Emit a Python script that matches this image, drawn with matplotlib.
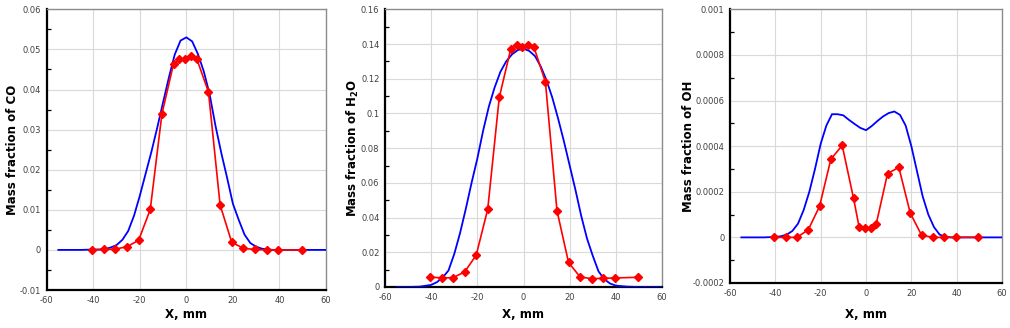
import matplotlib
matplotlib.use("Agg")
import matplotlib.pyplot as plt
from matplotlib.ticker import MultipleLocator, FuncFormatter

# ---------------- data ----------------
x_exp = [-40.5, -35.5, -30.5, -25.5, -20.5, -15.5, -10.5, -5.5, -3, -0.5,
         2, 4.5, 9.5, 14.5, 19.5, 24.5, 29.5, 34.5, 39.5, 49.5]

co_exp = [0.0, 0.0001, 0.0002, 0.0008, 0.0024, 0.0101, 0.0339, 0.0464, 0.0475, 0.0476,
          0.0483, 0.0476, 0.0394, 0.0112, 0.0019, 0.0004, 0.0001, 0.0, 0.0, 0.0]
h2o_exp = [0.0058, 0.0052, 0.0054, 0.0087, 0.0183, 0.0448, 0.1092, 0.1373, 0.1394, 0.1385,
           0.1394, 0.1383, 0.1181, 0.0440, 0.0142, 0.0058, 0.0048, 0.0050, 0.0052, 0.0056]
oh_exp = [0.0, 0.0, 0.0, 0.000033, 0.000136, 0.000343, 0.000403, 0.000171, 0.000044, 0.000039,
          0.000040, 0.000058, 0.000280, 0.000307, 0.000107, 0.000010, 0.0, 0.0, 0.0, 0.0]

x_sim = [-55, -50, -45, -40, -37.5, -35, -32.5, -30, -27.5, -25, -22.5, -20, -17.5, -15,
         -12.5, -10, -7.5, -5, -2.5, 0, 2.5, 5, 7.5, 10, 12.5, 15, 17.5, 20, 22.5, 25,
         27.5, 30, 32.5, 35, 37.5, 40, 45, 50, 55, 60]

co_sim = [0.0, 0.0, 0.0, 0.0001, 0.0001, 0.0002, 0.0006, 0.0012, 0.0025, 0.0047, 0.0085,
          0.0135, 0.019, 0.0245, 0.0305, 0.0368, 0.043, 0.0487, 0.0522, 0.053, 0.052,
          0.0488, 0.0445, 0.0388, 0.031, 0.0242, 0.018, 0.0115, 0.0075, 0.0038, 0.0017,
          0.0008, 0.0003, 0.0001, 0.0, 0.0, 0.0, 0.0, 0.0, 0.0]
h2o_sim = [0.0, 0.0, 0.0002, 0.0012, 0.0028, 0.0055, 0.0095, 0.019, 0.031, 0.045, 0.060,
           0.074, 0.090, 0.104, 0.115, 0.124, 0.130, 0.134, 0.1365, 0.1373, 0.136, 0.133,
           0.127, 0.119, 0.109, 0.097, 0.084, 0.070, 0.056, 0.041, 0.028, 0.018, 0.009,
           0.0045, 0.002, 0.0008, 0.0002, 0.0, 0.0, 0.0]
oh_sim = [0.0, 0.0, 0.0, 0.000002, 0.000005, 0.000012, 0.000028, 0.00006, 0.00012, 0.0002,
          0.0003, 0.00041, 0.00049, 0.00054, 0.00054, 0.000535, 0.000515, 0.000497, 0.00048,
          0.00047, 0.000488, 0.00051, 0.00053, 0.000545, 0.000552, 0.000537, 0.00049, 0.0004,
          0.00029, 0.00018, 0.0001, 0.000045, 0.000012, 0.000003, 0.0, 0.0, 0.0, 0.0, 0.0, 0.0]

ylabels = ["Mass fraction of CO", r"Mass fraction of H$_\mathbf{2}$O", "Mass fraction of OH"]
xlabel = "X, mm"
ylims = [(-0.01, 0.06), (0.0, 0.16), (-0.0002, 0.001)]
ysteps = [0.01, 0.02, 0.0002]

# ---------------- layout ----------------
W, H = 1010, 328
fig = plt.figure(figsize=(W / 100, H / 100), dpi=100)
boxes = [(46.7, 326, 9.3, 290), (385, 662, 9.3, 287), (730, 1002, 9.3, 283)]
ylab_x = [13, 353, 688]
xlab_y = 315

plt.rcParams['mathtext.fontset'] = 'dejavusans'


def fmt(v, pos):
    if abs(v) < 1e-12:
        return "0"
    return "{:g}".format(round(v, 6))


sims = [co_sim, h2o_sim, oh_sim]
exps = [co_exp, h2o_exp, oh_exp]

for i in range(3):
    l, r, t, b = boxes[i]
    ax = fig.add_axes([l / W, 1 - b / H, (r - l) / W, (b - t) / H])
    ax.plot(x_sim, sims[i], color="#0000ff", lw=1.3, zorder=3)
    ax.plot(x_exp, exps[i], color="#ff0000", lw=1.2, marker="D", ms=4.2,
            mfc="#ff0000", mec="#ff0000", zorder=4)
    ax.set_xlim(-60, 60)
    ax.set_ylim(*ylims[i])
    ax.xaxis.set_major_locator(MultipleLocator(20))
    ax.yaxis.set_major_locator(MultipleLocator(ysteps[i]))
    ax.yaxis.set_minor_locator(MultipleLocator(ysteps[i] / 2))
    ax.yaxis.set_major_formatter(FuncFormatter(fmt))
    ax.xaxis.set_major_formatter(FuncFormatter(fmt))
    ax.grid(True, which="major", color="#d9d9d9", lw=0.8)
    ax.set_axisbelow(True)
    ax.tick_params(axis="both", which="major", length=0, labelsize=6,
                   labelcolor="#404040", pad=4)
    ax.tick_params(axis="y", which="minor", length=3, width=0.9, direction="in",
                   color="black")
    for s in ["left", "bottom"]:
        ax.spines[s].set_color("black")
        ax.spines[s].set_linewidth(1.6)
    for s in ["top", "right"]:
        ax.spines[s].set_color("#8c8c8c")
        ax.spines[s].set_linewidth(1.0)
    ax.set_xlabel(xlabel, fontsize=8.5, fontweight="bold")
    ax.set_ylabel(ylabels[i], fontsize=8.5, fontweight="bold")
    ax.xaxis.label.set_verticalalignment("center")
    ax.yaxis.label.set_verticalalignment("center")
    ax.xaxis.set_label_coords(0.5, (b - xlab_y) / (b - t))
    ax.yaxis.set_label_coords((ylab_x[i] - l) / (r - l), 0.5)

fig.savefig("out.png", dpi=100)
